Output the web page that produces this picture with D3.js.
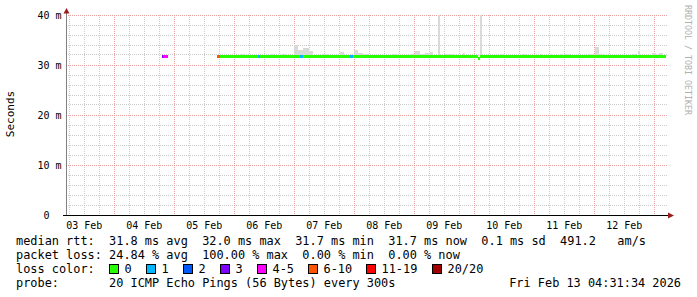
<!DOCTYPE html>
<html>
<head>
<meta charset="utf-8">
<script src="https://cdn.jsdelivr.net/npm/d3@7"></script>
<style>
  body { margin: 0; background: #fff; }
  text { font-family: "DejaVu Sans Mono", monospace; }
</style>
</head>
<body>
<svg id="chart" width="697" height="297"></svg>
<script>
// time window of the graph (UTC)
const startTime = "2026-02-03T04:31";
const endTime = "2026-02-13T04:31";

// y axis
const yTicks = [0, 10, 20, 30, 40];
const yTickLabels = ["0", "10 m", "20 m", "30 m", "40 m"];

// day labels on the x axis
const dayLabels = ["03 Feb", "04 Feb", "05 Feb", "06 Feb", "07 Feb", "08 Feb", "09 Feb", "10 Feb", "11 Feb", "12 Feb"];

// median rtt (ms) as segments, loss = index in lossLabels
const medFrom = ["2026-02-04T19:08", "2026-02-04T19:32", "2026-02-05T17:08", "2026-02-05T18:20", "2026-02-06T09:32", "2026-02-06T10:20",
                 "2026-02-07T02:20", "2026-02-07T03:32", "2026-02-07T22:20", "2026-02-07T23:32", "2026-02-10T01:32", "2026-02-10T02:20"];
const medTo   = ["2026-02-04T19:32", "2026-02-04T21:32", "2026-02-05T18:20", "2026-02-06T09:32", "2026-02-06T10:20", "2026-02-07T02:20",
                 "2026-02-07T03:32", "2026-02-07T22:20", "2026-02-07T23:32", "2026-02-10T01:32", "2026-02-10T02:20", "2026-02-13T04:31"];
const medRtt  = [31.8, 31.8, 31.8, 31.8, 31.8, 31.8, 31.8, 31.8, 31.8, 31.8, 31.5, 31.8];
const medLoss = [3, 4, 5, 0, 1, 0, 1, 0, 1, 0, 0, 0];

// smoke (spread of the pings), top in ms
const smokeFrom = ["2026-02-06T02:20", "2026-02-06T14:20", "2026-02-06T19:32", "2026-02-06T23:56", "2026-02-07T01:32", "2026-02-07T03:32",
                   "2026-02-07T05:56", "2026-02-07T11:32", "2026-02-07T18:20", "2026-02-07T23:56", "2026-02-08T01:32", "2026-02-08T03:32",
                   "2026-02-08T15:32", "2026-02-08T22:20", "2026-02-09T00:20", "2026-02-09T02:20", "2026-02-09T04:20", "2026-02-09T06:20",
                   "2026-02-09T09:32", "2026-02-09T12:20", "2026-02-09T19:32", "2026-02-10T02:20", "2026-02-10T10:20", "2026-02-10T19:32",
                   "2026-02-11T02:20", "2026-02-11T06:20", "2026-02-11T10:20", "2026-02-11T12:20", "2026-02-11T21:32", "2026-02-12T00:20",
                   "2026-02-12T01:56", "2026-02-12T15:32", "2026-02-12T17:32", "2026-02-12T23:08", "2026-02-13T01:56"];
const smokeTo   = ["2026-02-06T03:56", "2026-02-06T15:56", "2026-02-06T21:08", "2026-02-07T01:32", "2026-02-07T03:32", "2026-02-07T05:56",
                   "2026-02-07T07:32", "2026-02-07T13:32", "2026-02-07T19:56", "2026-02-08T01:32", "2026-02-08T03:32", "2026-02-08T05:32",
                   "2026-02-08T16:44", "2026-02-09T00:20", "2026-02-09T02:20", "2026-02-09T04:20", "2026-02-09T06:20", "2026-02-09T07:32",
                   "2026-02-09T10:20", "2026-02-09T16:20", "2026-02-09T20:20", "2026-02-10T03:08", "2026-02-10T12:20", "2026-02-10T20:44",
                   "2026-02-11T03:32", "2026-02-11T07:32", "2026-02-11T11:32", "2026-02-11T14:20", "2026-02-12T00:20", "2026-02-12T01:56",
                   "2026-02-12T04:20", "2026-02-12T16:44", "2026-02-12T18:20", "2026-02-13T00:44", "2026-02-13T03:32"];
const smokeTop  = [32.2, 32.2, 32.2, 34.0, 33.0, 33.4, 32.8, 32.2, 32.6, 33.0, 32.4, 32.2,
                   32.2, 32.2, 32.8, 32.2, 32.4, 32.6, 40.0, 32.2, 32.4, 40.0, 32.2, 32.2,
                   32.2, 32.2, 32.2, 32.2, 32.2, 33.6, 32.2, 32.2, 32.8, 32.4, 32.4];
const smokeLow = 31.5;

// loss legend
const lossLabels = ["0", "1", "2", "3", "4-5", "6-10", "11-19", "20/20"];
const lossColors = ["#26ff00", "#00b8ff", "#0059ff", "#7e00ff", "#ff00ff", "#ff5500", "#ff0000", "#a10000"];

// summary lines
const infoLines = [
  "median rtt:  31.8 ms avg  32.0 ms max  31.7 ms min  31.7 ms now  0.1 ms sd  491.2   am/s",
  "packet loss: 24.84 % avg  100.00 % max  0.00 % min  0.00 % now",
  "loss color:",
  "probe:       20 ICMP Echo Pings (56 Bytes) every 300s"
];
const stampText = "Fri Feb 13 04:31:34 2026";

const parseTime = d3.utcParse("%Y-%m-%dT%H:%M");
const svg = d3.select("#chart");

// scales
const x = d3.scaleUtc()
    .domain([parseTime(startTime), parseTime(endTime)])
    .range([65.5, 665.5]);
const y = d3.scaleLinear()
    .domain([0, 40])
    .range([215, 15]);

const px = v => Math.round(x(v)) + 0.5;
const py = v => Math.floor(y(v)) + 0.5;

// grid
const grid = svg.append("g");
const minorHours = d3.utcHour.every(6).range(x.domain()[0], x.domain()[1])
    .filter(d => d.getUTCHours() !== 0);
const dayTimes = d3.utcDay.range(x.domain()[0], x.domain()[1]);

grid.selectAll(".vminor")
  .data(minorHours)
  .enter().append("line")
    .attr("x1", px).attr("x2", px)
    .attr("y1", y(40)).attr("y2", y(0))
    .attr("stroke", "#cccccc")
    .attr("stroke-dasharray", "1,1");

const minorValues = d3.range(2, 41, 2).filter(v => v % 10 !== 0);
grid.selectAll(".hminor")
  .data(minorValues)
  .enter().append("line")
    .attr("x1", 66).attr("x2", 668)
    .attr("y1", py).attr("y2", py)
    .attr("stroke", "#cccccc")
    .attr("stroke-dasharray", "1,1");

grid.selectAll(".vmajor")
  .data(dayTimes)
  .enter().append("line")
    .attr("x1", px).attr("x2", px)
    .attr("y1", y(40)).attr("y2", y(0))
    .attr("stroke", "#e8a0a0")
    .attr("stroke-dasharray", "1,1");

grid.selectAll(".hmajor")
  .data(yTicks.filter(v => v > 0))
  .enter().append("line")
    .attr("x1", 66).attr("x2", 668)
    .attr("y1", py).attr("y2", py)
    .attr("stroke", "#e8a0a0")
    .attr("stroke-dasharray", "1,1");

// smoke
svg.append("g").selectAll("rect")
  .data(smokeTop)
  .enter().append("rect")
    .attr("x", (d, i) => Math.round(x(parseTime(smokeFrom[i]))))
    .attr("width", (d, i) => Math.round(x(parseTime(smokeTo[i]))) - Math.round(x(parseTime(smokeFrom[i]))))
    .attr("y", d => Math.round(y(d)))
    .attr("height", d => Math.round(y(smokeLow)) - Math.round(y(d)))
    .attr("fill", "#d9d9d9");

// median line coloured by loss
svg.append("g").selectAll("rect")
  .data(medRtt)
  .enter().append("rect")
    .attr("x", (d, i) => Math.round(x(parseTime(medFrom[i]))))
    .attr("width", (d, i) => Math.round(x(parseTime(medTo[i]))) - Math.round(x(parseTime(medFrom[i]))))
    .attr("y", d => Math.round(y(d)) - 1)
    .attr("height", 3)
    .attr("fill", (d, i) => lossColors[medLoss[i]]);

// axes
svg.append("line")
    .attr("x1", 66.5).attr("x2", 66.5)
    .attr("y1", 10).attr("y2", 215)
    .attr("stroke", "#808080");
svg.append("line")
    .attr("x1", 63).attr("x2", 669)
    .attr("y1", 215.5).attr("y2", 215.5)
    .attr("stroke", "#000");
svg.append("path")
    .attr("d", "M63.5,13.5 L69.5,13.5 L66.5,8 Z")
    .attr("fill", "#9b1c1c");
svg.append("path")
    .attr("d", "M668,212.5 L668,218.5 L674,215.5 Z")
    .attr("fill", "#9b1c1c");

// y tick labels
svg.append("g").selectAll("text")
  .data(yTicks)
  .enter().append("text")
    .attr("x", d => d === 0 ? 49.5 : 61.5)
    .attr("y", d => y(d) + 3.5)
    .attr("text-anchor", "end")
    .style("font-size", "10px")
    .attr("fill", "#000")
    .text((d, i) => yTickLabels[i]);

// day labels at noon
svg.append("g").selectAll("text")
  .data(dayLabels)
  .enter().append("text")
    .attr("x", (d, i) => x(d3.utcHour.offset(dayTimes[0], -12 + i * 24)))
    .attr("y", 228.5)
    .attr("text-anchor", "middle")
    .style("font-size", "10px")
    .text(d => d);

// axis title
svg.append("text")
    .attr("transform", "translate(14,114) rotate(-90)")
    .attr("text-anchor", "middle")
    .style("font-size", "11px")
    .text("Seconds");

// watermark
svg.append("text")
    .attr("transform", "translate(685,5) rotate(90)")
    .style("font-size", "8.3px")
    .attr("fill", "#b0b0b0")
    .text("RRDTOOL / TOBI OETIKER");

// summary text
const cw = 7.15;
svg.append("g").selectAll("text")
  .data(infoLines)
  .enter().append("text")
    .attr("x", 16)
    .attr("y", (d, i) => 245 + i * 14)
    .attr("xml:space", "preserve")
    .style("white-space", "pre")
    .style("font-size", "11.9px")
    .text(d => d);

svg.append("text")
    .attr("x", 681)
    .attr("y", 287)
    .attr("text-anchor", "end")
    .style("font-size", "11.9px")
    .text(stampText);

// loss colour legend
let lx = 16 + 13 * cw;
const legendPos = lossLabels.map(l => {
  const p = lx;
  lx += 15.5 + (l.length + 2) * cw;
  return p;
});
const legend = svg.append("g").selectAll("g")
  .data(lossLabels)
  .enter().append("g")
    .attr("transform", (d, i) => "translate(" + Math.round(legendPos[i]) + ",264)");
legend.append("rect")
    .attr("x", 0.5).attr("y", 0.5)
    .attr("width", 9).attr("height", 9)
    .attr("fill", (d, i) => lossColors[i])
    .attr("stroke", "#000");
legend.append("text")
    .attr("x", 15.5)
    .attr("y", 9)
    .style("font-size", "11.9px")
    .text(d => d);
</script>
</body>
</html>
